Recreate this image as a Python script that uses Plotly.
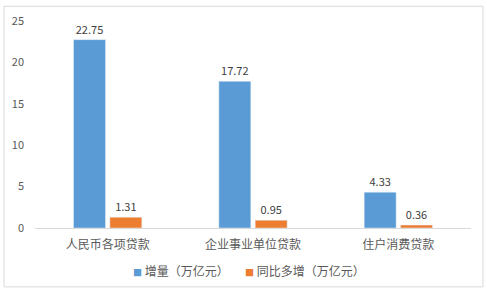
import plotly.graph_objects as go

categories = ["人民币各项贷款", "企业事业单位贷款", "住户消费贷款"]
series_names = ["增量（万亿元）", "同比多增（万亿元）"]
increase = [22.75, 17.72, 4.33]
yoy_more = [1.31, 0.95, 0.36]
y_ticks = [0, 5, 10, 15, 20, 25]

colors = ["#5B9BD5", "#ED7D31"]
font_family = "Noto Sans CJK SC, Noto Sans, sans-serif"

fig = go.Figure()
for name, vals, c in zip(series_names, [increase, yoy_more], colors):
    fig.add_trace(go.Bar(
        x=categories, y=vals, name=name, marker_color=c,
        text=[f"{v:.2f}" for v in vals], textposition="outside",
        textfont=dict(size=11, color="#404040", family=font_family),
        cliponaxis=False, showlegend=False,
    ))

L, R, T, B = 35, 16, 17, 67
W, H = 487, 295
pw, ph = W - L - R, H - T - B

# custom legend (small square markers as in the reference)
legend_x = [(131 - L) / pw, (243 - L) / pw]
annotations = []
for name, c, lx in zip(series_names, colors, legend_x):
    annotations.append(dict(
        xref="paper", yref="paper", x=lx, y=(228 - 271) / ph,
        xanchor="left", yanchor="middle", showarrow=False,
        text=f"<span style='color:{c};font-size:9px'>■</span> {name}",
        font=dict(size=12, color="#595959", family=font_family),
    ))

fig.update_layout(
    width=W, height=H,
    margin=dict(l=L, r=R, t=T, b=B, pad=0),
    paper_bgcolor="white", plot_bgcolor="white",
    barmode="group", bargap=0.5, bargroupgap=0.12,
    font=dict(family=font_family, color="#595959", size=11),
    showlegend=False,
    annotations=annotations,
    xaxis=dict(showline=True, linecolor="#D9D9D9", linewidth=1, ticks="",
               tickfont=dict(size=12, color="#595959"), showgrid=False,
               ticklabelstandoff=6),
    yaxis=dict(range=[0, 25], tickvals=y_ticks, showgrid=False, zeroline=False,
               showline=False, ticks="", tickfont=dict(size=11, color="#595959"),
               ticklabelstandoff=10),
    shapes=[dict(type="rect", xref="paper", yref="paper",
                 x0=(4 - L) / pw, x1=(483 - L) / pw,
                 y0=(228 - 288) / ph, y1=(228 - 2) / ph,
                 line=dict(color="#D9D9D9", width=1), fillcolor="rgba(0,0,0,0)",
                 layer="below")],
)

fig.write_html("out.html")
